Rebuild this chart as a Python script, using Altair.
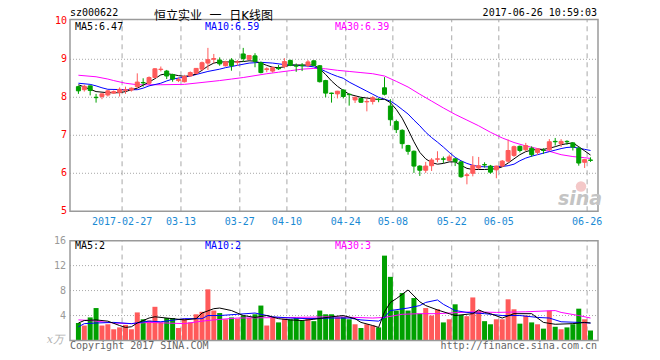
import altair as alt
import pandas as pd

# ---------------- data ----------------
opens = [8.28, 8.20, 8.30, 8.00, 8.02, 8.06, 8.11, 8.13, 8.18, 8.19,
         8.28, 8.39, 8.37, 8.52, 8.73, 8.69, 8.60, 8.44, 8.41, 8.56,
         8.63, 8.74, 8.90, 9.00, 8.98, 8.83, 8.98, 8.92, 9.14, 9.00,
         9.09, 8.91, 8.73, 8.69, 8.77, 8.81, 8.97, 8.83, 8.84, 8.84,
         8.96, 8.83, 8.44, 8.11, 8.09, 8.19, 8.08, 7.93, 7.97, 7.88,
         7.89, 7.95, 8.25, 7.77, 7.36, 7.13, 6.73, 6.58, 6.19, 6.08,
         6.20, 6.37, 6.38, 6.34, 6.38, 6.30, 5.94, 6.00, 6.14, 6.23,
         6.19, 6.09, 6.19, 6.32, 6.47, 6.71, 6.62, 6.66, 6.55, 6.61,
         6.62, 6.84, 6.78, 6.84, 6.80, 6.66, 6.29, 6.35]
closes = [8.17, 8.29, 8.18, 7.99, 8.09, 8.17, 8.15, 8.21, 8.20, 8.24,
          8.40, 8.38, 8.52, 8.75, 8.74, 8.56, 8.48, 8.47, 8.55, 8.65,
          8.76, 8.91, 8.99, 9.02, 8.88, 8.93, 8.83, 8.93, 9.02, 9.10,
          8.95, 8.65, 8.75, 8.78, 8.75, 8.94, 8.84, 8.82, 8.83, 8.93,
          8.84, 8.41, 8.11, 8.10, 8.16, 8.02, 8.07, 8.00, 7.87, 7.89,
          7.99, 7.94, 8.08, 7.41, 7.15, 6.78, 6.58, 6.19, 6.08, 6.19,
          6.35, 6.38, 6.37, 6.43, 6.31, 5.91, 5.96, 6.21, 6.20, 6.22,
          6.03, 6.19, 6.32, 6.60, 6.70, 6.60, 6.73, 6.49, 6.64, 6.60,
          6.83, 6.83, 6.84, 6.83, 6.69, 6.27, 6.36, 6.34]
highs = [8.31, 8.33, 8.31, 8.09, 8.10, 8.19, 8.18, 8.26, 8.28, 8.26,
         8.63, 8.50, 8.55, 8.77, 8.81, 8.72, 8.62, 8.52, 8.59, 8.68,
         8.77, 8.94, 9.30, 9.14, 9.05, 8.96, 9.03, 8.98, 9.30, 9.11,
         9.16, 8.94, 8.79, 8.81, 8.85, 9.03, 8.99, 8.89, 8.90, 8.98,
         8.97, 8.85, 8.46, 8.12, 8.17, 8.21, 8.10, 8.02, 7.98, 7.97,
         8.03, 7.98, 8.53, 7.95, 7.41, 7.16, 6.75, 6.60, 6.21, 6.30,
         6.40, 6.58, 6.44, 6.49, 6.40, 6.32, 6.01, 6.45, 6.43, 6.29,
         6.22, 6.20, 6.35, 6.89, 6.73, 6.73, 6.80, 6.71, 6.66, 6.66,
         6.90, 6.93, 6.90, 6.87, 6.81, 6.69, 6.38, 6.42]
lows = [8.09, 8.15, 8.05, 7.86, 7.95, 8.02, 8.09, 8.02, 8.09, 8.15,
        8.24, 8.28, 8.33, 8.50, 8.68, 8.48, 8.41, 8.40, 8.39, 8.55,
        8.61, 8.70, 8.72, 8.90, 8.83, 8.81, 8.70, 8.83, 8.93, 8.98,
        8.79, 8.63, 8.66, 8.65, 8.72, 8.76, 8.82, 8.67, 8.69, 8.79,
        8.82, 8.39, 8.00, 7.86, 7.97, 7.97, 7.78, 7.85, 7.85, 7.63,
        7.81, 7.87, 8.05, 7.25, 7.06, 6.65, 6.49, 6.01, 5.93, 6.01,
        6.06, 6.29, 6.27, 6.32, 6.19, 5.88, 5.71, 5.92, 6.11, 6.15,
        5.99, 5.87, 6.17, 6.28, 6.43, 6.55, 6.58, 6.43, 6.49, 6.51,
        6.58, 6.73, 6.69, 6.75, 6.60, 6.20, 6.14, 6.30]
volumes = [2.8, 2.4, 3.7, 5.2, 2.4, 2.6, 1.8, 2.1, 2.5, 1.8,
           4.5, 3.4, 3.2, 5.4, 2.9, 3.6, 3.6, 2.0, 3.5, 2.9,
           4.2, 4.6, 8.2, 4.8, 4.4, 3.4, 3.7, 3.5, 4.0, 3.6,
           4.2, 5.6, 2.4, 3.7, 2.9, 3.5, 3.4, 3.6, 3.2, 3.6,
           3.1, 4.8, 4.2, 4.2, 3.7, 3.8, 3.4, 2.6, 2.0, 2.6,
           2.4, 2.1, 13.6, 10.2, 4.8, 7.6, 4.8, 6.8, 4.3, 5.2,
           4.0, 5.0, 2.9, 3.4, 5.8, 4.1, 3.9, 6.9, 4.8, 3.1,
           2.6, 3.4, 3.4, 6.6, 5.0, 2.7, 4.0, 2.9, 2.6, 1.9,
           4.8, 2.2, 1.8, 2.1, 2.6, 5.1, 3.4, 1.6]

# moving-average lines (candle index, value)
ma5_k = [0, 1, 2, 3, 5, 7, 8, 9, 10, 11, 12, 13, 14, 15, 16, 17, 18, 19, 20, 21,
         22, 23, 24, 26, 28, 29, 30, 31, 32, 33, 34, 35, 36, 38, 40, 41, 42, 43, 44, 45,
         46, 47, 48, 50, 51, 52, 53, 54, 55, 56, 57, 58, 59, 60, 61, 62, 63, 64, 65, 66,
         67, 68, 69, 70, 71, 72, 73, 74, 75, 76, 77, 78, 79, 80, 81, 82, 83, 84, 85, 86, 87]
ma5_v = [8.33, 8.27, 8.21, 8.15, 8.12, 8.12, 8.15, 8.20, 8.24, 8.32, 8.40, 8.49, 8.59, 8.62, 8.60, 8.57, 8.55, 8.57, 8.61, 8.71,
         8.82, 8.90, 8.93, 8.93, 8.94, 8.96, 8.95, 8.90, 8.84, 8.79, 8.78, 8.80, 8.85, 8.85, 8.85, 8.75, 8.60, 8.43, 8.29, 8.18,
         8.08, 8.04, 8.00, 7.96, 7.94, 7.95, 7.86, 7.68, 7.45, 7.15, 6.83, 6.55, 6.38, 6.28, 6.24, 6.26, 6.30, 6.30, 6.21, 6.13,
         6.10, 6.10, 6.10, 6.11, 6.12, 6.17, 6.27, 6.38, 6.49, 6.57, 6.61, 6.63, 6.63, 6.66, 6.70, 6.75, 6.78, 6.80, 6.70, 6.59, 6.48]
ma10_k = [0, 2, 3, 4, 5, 8, 10, 11, 12, 14, 15, 16, 18, 19, 20, 22, 24, 25, 27, 29,
          31, 33, 35, 37, 39, 40, 41, 42, 43, 44, 45, 46, 47, 48, 49, 50, 51, 52, 53, 54,
          55, 56, 57, 58, 59, 60, 61, 62, 63, 64, 65, 66, 67, 68, 69, 70, 71, 72, 73, 74,
          75, 76, 77, 78, 79, 80, 81, 82, 83, 84, 85, 86, 87]
ma10_v = [8.37, 8.34, 8.30, 8.25, 8.21, 8.20, 8.20, 8.24, 8.30, 8.37, 8.43, 8.48, 8.53, 8.56, 8.60, 8.68, 8.74, 8.78, 8.84, 8.90,
          8.92, 8.90, 8.86, 8.84, 8.82, 8.80, 8.75, 8.68, 8.61, 8.55, 8.50, 8.40, 8.32, 8.24, 8.16, 8.08, 8.00, 7.95, 7.90, 7.80,
          7.68, 7.56, 7.40, 7.25, 7.08, 6.94, 6.82, 6.69, 6.55, 6.42, 6.33, 6.26, 6.21, 6.18, 6.17, 6.17, 6.18, 6.18, 6.20, 6.24,
          6.33, 6.40, 6.45, 6.49, 6.53, 6.57, 6.61, 6.65, 6.68, 6.69, 6.66, 6.63, 6.60]
ma30_k = [0, 3, 5, 6, 8, 10, 14, 18, 21, 24, 26, 28, 30, 32, 34, 36, 38, 40, 42, 44,
          46, 48, 50, 52, 54, 56, 58, 60, 62, 64, 66, 68, 70, 72, 74, 76, 78, 80, 82, 84, 86, 87]
ma30_v = [8.58, 8.54, 8.48, 8.44, 8.37, 8.33, 8.33, 8.34, 8.39, 8.44, 8.48, 8.52, 8.57, 8.62, 8.66, 8.70, 8.74, 8.76, 8.75, 8.71,
          8.68, 8.65, 8.62, 8.56, 8.42, 8.27, 8.08, 7.90, 7.72, 7.55, 7.40, 7.25, 7.08, 6.93, 6.81, 6.72, 6.65, 6.58, 6.49, 6.44, 6.41, 6.39]

vma5_k = [0, 1, 3, 5, 7, 8, 9, 10, 12, 13, 16, 18, 20, 21, 23, 24, 26, 28, 30, 32,
          34, 36, 38, 40, 43, 45, 47, 48, 50, 51, 52, 53, 54, 56, 58, 59, 61, 63, 64, 67,
          68, 69, 70, 72, 74, 77, 79, 81, 84, 86, 87]
vma5_v = [2.8, 3.2, 3.3, 3.1, 2.4, 2.1, 2.2, 2.8, 3.6, 3.8, 3.5, 3.3, 3.5, 4.4, 5.1, 5.2, 4.8, 4.0, 3.7, 4.0,
          3.5, 3.3, 3.2, 3.4, 3.8, 4.0, 3.5, 2.9, 2.4, 2.1, 4.6, 6.1, 6.7, 8.1, 6.2, 5.6, 4.9, 4.3, 4.0, 4.3,
          4.9, 4.5, 4.3, 3.6, 4.3, 4.3, 2.9, 2.6, 2.7, 2.9, 2.8]
vma10_k = [0, 1, 3, 6, 9, 12, 14, 18, 21, 22, 24, 27, 30, 32, 33, 36, 39, 43, 46, 48,
           51, 52, 53, 56, 58, 59, 61, 62, 63, 64, 66, 69, 72, 75, 78, 80, 82, 85, 87]
vma10_v = [2.2, 2.7, 2.8, 2.9, 2.7, 3.1, 3.0, 3.5, 3.5, 4.0, 4.0, 4.2, 4.4, 4.0, 3.8, 3.6, 3.5, 3.6, 3.6, 3.3,
           3.1, 3.7, 4.8, 5.2, 5.6, 6.1, 6.5, 5.8, 5.3, 4.8, 4.5, 4.3, 4.0, 4.0, 3.7, 3.6, 3.0, 2.9, 2.8]
vma30_k = [0, 2, 6, 9, 12, 15, 18, 21, 23, 27, 37, 43, 47, 50, 52, 55, 58, 61, 67, 71,
           76, 81, 82, 85, 87]
vma30_v = [3.3, 3.2, 2.8, 2.7, 2.9, 2.8, 2.7, 3.1, 3.3, 3.6, 3.7, 3.8, 3.7, 3.6, 3.7, 4.2, 4.3, 4.3, 4.6, 4.5,
           4.6, 4.8, 4.5, 4.0, 3.6]

date_idx = [8, 18, 28, 36, 46, 54, 64, 72, 87]
date_lbl = ["2017-02-27", "03-13", "03-27", "04-10", "04-24", "05-08", "05-22", "06-05", "06-26"]
price_ticks = [5, 6, 7, 8, 9, 10]
price_grid = [6, 7, 8, 9]
vol_ticks = [4, 8, 12, 16]
vol_grid = [4, 8, 12]

# ---------------- styling ----------------
RED = "#ff5a5a"
GREEN = "#00a000"
GRID = "#a8a8a8"
FRAME = "#9a9a9a"
MONO = "DejaVu Sans Mono"
W, H = 528, 321
N = len(opens)

price_scale = alt.Scale(domain=[1.600, 10.047], nice=False, zero=False)
vol_scale = alt.Scale(domain=[0, 51.44], nice=False, zero=False)
x_scale = alt.Scale(domain=[0, N], nice=False, zero=False)

candles = pd.DataFrame({"k": list(range(N)), "o": opens, "c": closes,
                        "h": highs, "l": lows, "v": volumes})
color_enc = alt.Color("dir:N", scale=alt.Scale(domain=["up", "down"], range=[RED, GREEN]), legend=None)

cbase = alt.Chart(candles).transform_calculate(
    xc="datum.k + 0.58", dir="datum.c >= datum.o ? 'up' : 'down'")
X = alt.X("xc:Q", scale=x_scale, axis=None)

# ----- price panel -----
pgrid = alt.Chart(pd.DataFrame({"p": price_grid})).mark_rule(
    color=GRID, strokeDash=[1, 2], strokeWidth=1).encode(
    y=alt.Y("p:Q", scale=price_scale, axis=None), x=alt.value(0), x2=alt.value(W))
plabels = alt.Chart(pd.DataFrame({"p": price_ticks})).mark_text(
    font=MONO, fontSize=10, color="#ff0000", align="right", baseline="middle").encode(
    y=alt.Y("p:Q", scale=price_scale, axis=None), x=alt.value(-3), text="p:Q")
vd = pd.DataFrame({"k": date_idx, "lbl": date_lbl})
pdash = alt.Chart(vd).mark_rule(color=GRID, strokeDash=[5, 4], strokeWidth=1).encode(
    x=alt.X("k:Q", scale=x_scale, axis=None),
    y=alt.Y(datum=5, scale=price_scale, axis=None), y2=alt.value(0))
wick = cbase.mark_rule(strokeWidth=1).encode(
    x=X, y=alt.Y("l:Q", scale=price_scale, axis=None), y2="h:Q", color=color_enc)
body = cbase.mark_bar(size=4, strokeWidth=1).encode(
    x=X, y=alt.Y("o:Q", scale=price_scale, axis=None), y2="c:Q",
    color=color_enc, stroke=color_enc)


def ma_line(ks, vs, col, scale):
    d = pd.DataFrame({"k": ks, "m": vs})
    return alt.Chart(d).transform_calculate(xc="datum.k + 0.58").mark_line(
        color=col, strokeWidth=1).encode(
        x=X, y=alt.Y("m:Q", scale=scale, axis=None))


pframe = alt.Chart(pd.DataFrame({"a": [0]})).mark_rect(
    fillOpacity=0, stroke=FRAME, strokeWidth=1.5).encode(
    x=alt.value(0), x2=alt.value(W),
    y=alt.Y(datum=5, scale=price_scale, axis=None), y2=alt.value(0))

price_layer = alt.layer(pgrid, pdash, ma_line(ma30_k, ma30_v, "#ff00ff", price_scale),
                        ma_line(ma10_k, ma10_v, "#0000ff", price_scale),
                        ma_line(ma5_k, ma5_v, "#000000", price_scale),
                        wick, body, pframe, plabels)

# ----- volume panel -----
vgrid = alt.Chart(pd.DataFrame({"v": vol_grid})).mark_rule(
    color=GRID, strokeDash=[1, 2], strokeWidth=1).encode(
    y=alt.Y("v:Q", scale=vol_scale, axis=None), x=alt.value(0), x2=alt.value(W))
vlabels = alt.Chart(pd.DataFrame({"v": vol_ticks})).mark_text(
    font=MONO, fontSize=10, color="#999999", align="right", baseline="middle").encode(
    y=alt.Y("v:Q", scale=vol_scale, axis=None), x=alt.value(-4), text="v:Q")
vdash = alt.Chart(vd).mark_rule(color=GRID, strokeDash=[5, 4], strokeWidth=1).encode(
    x=alt.X("k:Q", scale=x_scale, axis=None),
    y=alt.Y(datum=0, scale=vol_scale, axis=None), y2=alt.Y2(datum=16))
vbars = cbase.mark_bar(size=5).encode(
    x=X, y=alt.Y("v:Q", scale=vol_scale, axis=None),
    y2=alt.Y2(datum=0), color=color_enc)
vframe = alt.Chart(pd.DataFrame({"a": [0]})).mark_rect(
    fillOpacity=0, stroke=FRAME, strokeWidth=1.5).encode(
    x=alt.value(0), x2=alt.value(W),
    y=alt.Y(datum=0, scale=vol_scale, axis=None), y2=alt.Y2(datum=16))

vol_layer = alt.layer(vgrid, vdash, vbars,
                      ma_line(vma30_k, vma30_v, "#ff00ff", vol_scale),
                      ma_line(vma10_k, vma10_v, "#0000ff", vol_scale),
                      ma_line(vma5_k, vma5_v, "#000000", vol_scale),
                      vframe, vlabels)

# ----- date labels -----
dates = alt.Chart(vd).mark_text(font=MONO, fontSize=10, color="#1a8ad4",
                                align="center", baseline="middle").encode(
    x=alt.X("k:Q", scale=x_scale, axis=None), y=alt.value(202.5), text="lbl:N")

# ----- texts -----
def txt(s, x, y, col="#000000", align="left", size=10, font=MONO, **kw):
    return alt.Chart(pd.DataFrame({"t": [s]})).mark_text(
        font=font, fontSize=size, color=col, align=align, baseline="middle", **kw).encode(
        x=alt.value(x), y=alt.value(y), text="t:N")


texts = [
    txt("sz000622", 0, -6.5),
    txt("恒立实业\u00a0\u00a0一\u00a0\u00a0日K线图", 143.5, -3.8, align="center", size=12,
        font="DejaVu Sans, Noto Sans CJK SC"),
    txt("2017-06-26 10:59:03", 527, -6.8, align="right"),
    txt("MA5:6.47", 5, 7.8),
    txt("MA10:6.59", 135, 7.8, col="#0000ff"),
    txt("MA30:6.39", 265, 7.8, col="#ff00ff"),
    txt("MA5:2", 5, 226.5),
    txt("MA10:2", 135, 226.5, col="#0000ff"),
    txt("MA30:3", 265, 226.5, col="#ff00ff"),
    txt("x万", -6, 320.5, col="#b0b0b0", align="right", size=11, font="DejaVu Serif", fontStyle="italic"),
    txt("Copyright 2017 SINA.COM", 0, 326.8, col="#666666"),
    txt("http://finance.sina.com.cn", 527, 326.8, col="#666666", align="right"),
    txt("sina", 510, 179, col="#c4c4c4", align="center", size=19, font="DejaVu Sans",
        fontStyle="italic", fontWeight="bold"),
]

logo = alt.Chart(pd.DataFrame({"a": [0]})).mark_point(
    filled=True, color="#f3c2c2", size=110, opacity=0.9).encode(x=alt.value(511), y=alt.value(167))

chart = alt.layer(price_layer, vol_layer, dates, logo, *texts).resolve_scale(
    y="independent").properties(
    width=W, height=H, padding={"left": 62, "top": 11.5, "right": 46, "bottom": 12},
    autosize=alt.AutoSizeParams(type="none"), background="#ffffff"
).configure_view(strokeWidth=0)

chart.save("out.html", embed_options={"renderer": "svg", "actions": False})
